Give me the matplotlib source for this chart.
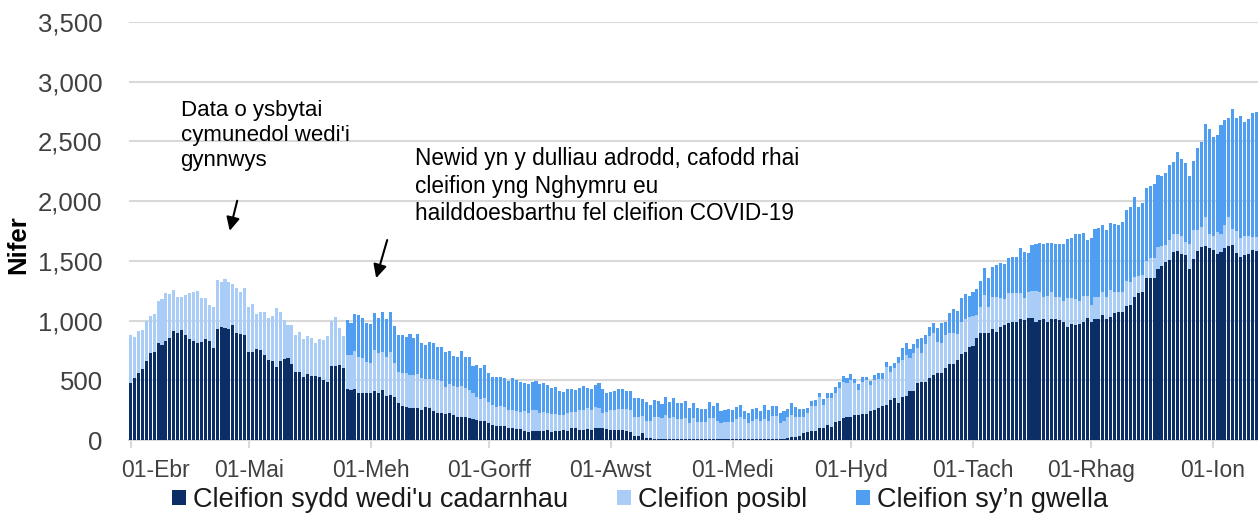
import numpy as np
import matplotlib.pyplot as plt
from matplotlib.ticker import FuncFormatter
from matplotlib.transforms import ScaledTranslation

plt.rcParams['font.family'] = ['Liberation Sans', 'DejaVu Sans']

# daily values, 01 April 2020 to 12 January 2021
confirmed = [
    480, 517, 565, 593, 658, 726, 734, 811, 794, 833, 856, 910, 898, 918, 879,
    842, 825, 814, 822, 850, 833, 774, 929, 946, 941, 929, 963, 898, 887, 881,
    # May
    734, 737, 766, 757, 709, 672, 664, 613, 661, 681, 684, 636, 573, 573, 525,
    557, 540, 536, 530, 502, 483, 619, 619, 625, 600, 424, 418, 424, 396, 396, 396,
    # June
    396, 410, 396, 418, 371, 377, 357, 307, 287, 279, 271, 265, 265, 251, 273,
    265, 246, 229, 229, 215, 223, 209, 195, 195, 190, 181, 176, 167, 162, 162,
    # July
    140, 126, 120, 120, 120, 103, 98, 89, 89, 75, 70, 75, 75, 75, 75,
    84, 64, 75, 75, 84, 78, 98, 98, 84, 84, 92, 84, 98, 98, 98, 89,
    # August
    84, 84, 84, 84, 75, 64, 36, 36, 56, 20, 20, 11, 11, 11, 8,
    8, 8, 8, 6, 5, 5, 5, 5, 5, 5, 6, 5, 5, 5, 5, 5,
    # September
    6, 5, 5, 5, 5, 5, 5, 5, 5, 8, 11, 11, 5, 8, 20,
    28, 28, 36, 56, 67, 75, 75, 98, 98, 126, 112, 153, 162, 181, 190,
    # October
    190, 209, 209, 218, 218, 246, 251, 271, 285, 293, 335, 349, 312, 357, 368,
    413, 413, 474, 483, 488, 516, 544, 558, 564, 600, 636, 636, 670, 717, 739, 781,
    # November
    790, 851, 893, 893, 898, 929, 907, 943, 963, 977, 990, 985, 1010, 1004, 1018,
    1018, 990, 1004, 1010, 990, 1010, 1010, 1004, 990, 949, 971, 963, 971, 990, 1018,
    # December
    990, 1010, 1010, 1046, 1010, 1027, 1066, 1074, 1074, 1122, 1130, 1194, 1228, 1242, 1353,
    1359, 1359, 1431, 1456, 1493, 1507, 1576, 1585, 1557, 1548, 1431, 1515, 1582, 1618, 1624, 1604,
    # January
    1590, 1554, 1576, 1604, 1624, 1632, 1562, 1529, 1548, 1557, 1590, 1585,
]

suspected = [
    401, 345, 345, 325, 336, 314, 317, 353, 384, 396, 364, 350, 297, 277, 336,
    392, 412, 437, 370, 336, 294, 339, 407, 373, 409, 390, 345, 373, 356, 390,
    376, 399, 288, 316, 364, 353, 376, 494, 410, 327, 282, 330, 306, 331, 317,
    313, 312, 279, 313, 335, 388, 380, 408, 310, 271, 287, 293, 324, 301, 287, 260,
    251, 343, 329, 321, 321, 362, 285, 265, 271, 279, 273, 279, 287, 265, 235,
    243, 262, 273, 265, 226, 246, 243, 246, 257, 242, 238, 215, 196, 178, 192,
    181, 167, 159, 167, 159, 148, 153, 157, 148, 171, 153, 176, 176, 154, 162,
    139, 154, 143, 134, 125, 145, 139, 139, 167, 167, 173, 167, 181, 167, 131, 148,
    167, 167, 173, 173, 182, 187, 154, 159, 145, 142, 142, 184, 179, 170, 201,
    173, 187, 165, 167, 181, 140, 176, 145, 145, 145, 181, 176, 153, 140, 145, 145,
    147, 167, 190, 167, 140, 153, 173, 153, 167, 154, 190, 190, 134, 154, 170,
    181, 167, 159, 139, 156, 210, 210, 265, 195, 223, 237, 243, 273, 307, 290,
    312, 265, 210, 270, 284, 214, 251, 237, 223, 321, 237, 251, 330, 313, 343,
    271, 312, 293, 242, 316, 354, 349, 265, 251, 279, 257, 257, 217, 273, 271, 251,
    248, 195, 217, 321, 218, 271, 287, 243, 217, 256, 243, 248, 218, 187, 224,
    232, 257, 238, 190, 215, 232, 190, 190, 173, 237, 215, 214, 195, 215, 187,
    140, 184, 184, 196, 184, 229, 176, 168, 168, 212, 195, 173, 145, 139, 148,
    162, 162, 187, 168, 139, 167, 148, 139, 150, 112, 210, 243, 176, 168, 245, 120,
    117, 190, 148, 196, 240, 131, 190, 165, 159, 150, 112, 117,
]

recovering = [
    0, 0, 0, 0, 0, 0, 0, 0, 0, 0, 0, 0, 0, 0, 0,
    0, 0, 0, 0, 0, 0, 0, 0, 0, 0, 0, 0, 0, 0, 0,
    0, 0, 0, 0, 0, 0, 0, 0, 0, 0, 0, 0, 0, 0, 0,
    0, 0, 0, 0, 0, 0, 0, 0, 0, 0, 293, 265, 304, 349, 335, 320,
    324, 313, 293, 332, 318, 332, 312, 307, 321, 301, 343, 307, 335, 299, 287,
    309, 301, 279, 287, 298, 276, 251, 251, 293, 265, 273, 228, 265, 265, 274,
    237, 232, 251, 243, 237, 243, 265, 256, 251, 228, 243, 237, 246, 237, 237,
    237, 214, 223, 204, 196, 201, 187, 182, 181, 201, 167, 173, 181, 209, 195, 159,
    154, 162, 167, 167, 156, 162, 159, 154, 139, 159, 131, 140, 139, 120, 154,
    140, 154, 139, 139, 140, 125, 125, 120, 112, 112, 128, 103, 148, 97, 101, 112,
    98, 106, 95, 70, 78, 104, 92, 84, 118, 89, 84, 84, 84, 84, 67,
    98, 84, 62, 62, 42, 44, 50, 33, 47, 42, 42, 45, 53, 47, 36,
    48, 37, 47, 37, 28, 37, 42, 56, 56, 42, 50, 47, 56, 97, 98,
    75, 76, 76, 126, 75, 73, 89, 112, 162, 111, 173, 201, 196, 196, 212, 173,
    204, 218, 221, 228, 237, 251, 271, 298, 293, 288, 296, 296, 376, 385, 320,
    382, 394, 410, 441, 447, 404, 441, 447, 478, 494, 502, 547, 558, 530, 469,
    558, 569, 578, 558, 564, 558, 566, 558, 585, 591, 628, 670, 580, 600, 611,
    608, 619, 600, 586, 606, 628, 606, 689, 642, 656, 569, 580, 683, 711, 776, 876,
    832, 809, 913, 878, 828, 1005, 940, 1018, 957, 977, 1032, 1046,
]

tick_days = [0, 30, 61, 91, 122, 153, 183, 214, 244, 275]
tick_labels = ['01-Ebr', '01-Mai', '01-Meh', '01-Gorff', '01-Awst',
               '01-Medi', '01-Hyd', '01-Tach', '01-Rhag', '01-Ion']
series_names = ["Cleifion sydd wedi'u cadarnhau", 'Cleifion posibl',
                'Cleifion sy\u2019n gwella']
colors = ['#0b2e66', '#a9cdf7', '#4f9ef2']

conf = np.array(confirmed)
susp = np.array(suspected)
rec = np.array(recovering)
days = np.arange(len(conf))

fig = plt.figure(figsize=(12.58, 5.22), dpi=100)
ax = fig.add_axes([0.1025, 0.157, 0.8975, 0.801])

w = 0.78
ax.bar(days, conf, w, color=colors[0], lw=0, label=series_names[0], zorder=3)
ax.bar(days, susp, w, bottom=conf, color=colors[1], lw=0, label=series_names[1], zorder=3)
ax.bar(days, rec, w, bottom=conf + susp, color=colors[2], lw=0, label=series_names[2], zorder=3)

ax.set_xlim(-0.4, 286.4)
ax.set_ylim(0, 3500)
ax.set_yticks(range(0, 3501, 500))
ax.yaxis.set_major_formatter(FuncFormatter(lambda v, p: f'{v:,.0f}'))
ax.grid(axis='y', color='#d9d9d9', lw=1.5, zorder=0)
ax.set_axisbelow(True)
for s in ['top', 'right', 'left']:
    ax.spines[s].set_visible(False)
ax.spines['bottom'].set_color('#d9d9d9')
ax.spines['bottom'].set_linewidth(1.5)

ax.set_xticks(tick_days, tick_labels)
ax.tick_params(axis='y', length=0, pad=19, labelsize=18.5, labelcolor='#404040')
ax.tick_params(axis='x', length=6, width=1.5, color='#d9d9d9', pad=8,
               labelsize=16.5, labelcolor='#404040')
# excel nudges the first label inside the picture
first = ax.get_xticklabels()[0]
first.set_transform(first.get_transform() + ScaledTranslation(0.25, 0, fig.dpi_scale_trans))

ax.set_ylabel('Nifer', fontsize=18.5, fontweight='bold')
ax.yaxis.set_label_coords(-0.0875, 0.467)

ax.text(12.7, 2846, "Data o ysbytai\ncymunedol wedi'i\ngynnwys",
        fontsize=16, va='top', ha='left', linespacing=1.25)
ax.text(72.3, 2452, 'Newid yn y dulliau adrodd, cafodd rhai\ncleifion yng Nghymru eu\n'
        'hailddoesbarthu fel cleifion COVID-19',
        fontsize=16.3, va='top', ha='left', linespacing=1.25)
arrow = dict(arrowstyle='-|>', color='black', lw=1.5, mutation_scale=20,
             shrinkA=0, shrinkB=0)
ax.annotate('', xy=(25.2, 1752), xytext=(27.1, 2003), arrowprops=arrow)
ax.annotate('', xy=(62.4, 1356), xytext=(65.2, 1674), arrowprops=arrow)

fig.legend(loc='center', bbox_to_anchor=(0.509, 0.042), ncol=3, frameon=False,
           fontsize=19.5, handlelength=0.5, handleheight=0.5, handletextpad=0.28,
           columnspacing=1.8, labelcolor='#1a1a1a')

fig.savefig('out.png', dpi=100)
